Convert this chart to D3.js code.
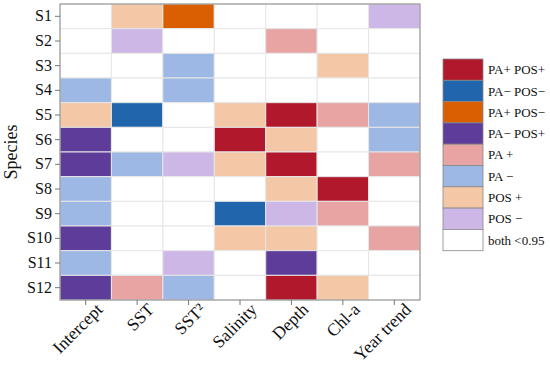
<!DOCTYPE html>
<html>
<head>
<meta charset="utf-8">
<script src="https://cdn.jsdelivr.net/npm/d3@7"></script>
<style>
body { margin: 0; background: #fff; }
svg text { font-family: "Liberation Serif", "DejaVu Serif", serif; fill: #111; }
</style>
</head>
<body>
<div id="chart"></div>
<script>
var width = 550, height = 369;
var margin = {top: 4, left: 60, right: 130, bottom: 69};

// 数据
var species = ["S1","S2","S3","S4","S5","S6","S7","S8","S9","S10","S11","S12"];
var covariates = ["Intercept","SST","SST\u00b2","Salinity","Depth","Chl-a","Year trend"];
var categories = ["PA+ POS+","PA\u2212 POS\u2212","PA+ POS\u2212","PA\u2212 POS+","PA +","PA \u2212","POS +","POS \u2212","both <0.95"];
var colors = ["#b2182b","#2166ac","#d95f02","#5e3c99","#e8a3a3","#9db8e4","#f4c7a6","#cdb7e6","#ffffff"];
// 每个物种对应各协变量的类别编号 (8 = both <0.95)
var cells = [
  [8,6,2,8,8,8,7],
  [8,7,8,8,4,8,8],
  [8,8,5,8,8,6,8],
  [5,8,5,8,8,8,8],
  [6,1,8,6,0,4,5],
  [3,8,8,0,6,8,5],
  [3,5,7,6,0,8,4],
  [5,8,8,8,6,0,8],
  [5,8,8,1,7,4,8],
  [3,8,8,6,6,8,4],
  [5,8,7,8,3,8,8],
  [3,4,5,8,0,6,8]
];

var svg = d3.select("#chart").append("svg")
    .attr("width", width)
    .attr("height", height);

var x = d3.scaleBand().domain(covariates).range([margin.left, width - margin.right]);
var y = d3.scaleBand().domain(species).range([margin.top, height - margin.bottom]);
var color = d3.scaleOrdinal().domain(d3.range(categories.length)).range(colors);

var flat = [];
cells.forEach(function (row, i) {
    row.forEach(function (c, j) {
        flat.push({s: species[i], v: covariates[j], c: c});
    });
});

// 格子
svg.append("g").selectAll("rect")
    .data(flat)
    .enter().append("rect")
    .attr("x", d => x(d.v))
    .attr("y", d => y(d.s))
    .attr("width", x.bandwidth())
    .attr("height", y.bandwidth())
    .attr("fill", d => color(d.c))
    .attr("stroke", "#e6e6e6")
    .attr("stroke-width", 1);

// 外框
svg.append("rect")
    .attr("x", margin.left)
    .attr("y", margin.top)
    .attr("width", width - margin.right - margin.left)
    .attr("height", height - margin.bottom - margin.top)
    .attr("fill", "none")
    .attr("stroke", "#888")
    .attr("stroke-width", 1);

// y轴
var yAxis = svg.append("g")
    .attr("transform", `translate(${margin.left},0)`)
    .call(d3.axisLeft(y).tickSize(5).tickPadding(3))
    .attr("font-family", "Liberation Serif, serif")
    .attr("font-size", 16);
yAxis.select(".domain").remove();
yAxis.selectAll("line").attr("stroke", "#777");
yAxis.selectAll("text").attr("fill", "#111");

// x轴
var xAxis = svg.append("g")
    .attr("transform", `translate(0,${height - margin.bottom})`)
    .call(d3.axisBottom(x).tickSize(5).tickPadding(3))
    .attr("font-family", "Liberation Serif, serif")
    .attr("font-size", 17.5);
xAxis.select(".domain").remove();
xAxis.selectAll("line").attr("stroke", "#777");
xAxis.selectAll("text")
    .attr("fill", "#111")
    .attr("text-anchor", "end")
    .attr("dx", "0.3em")
    .attr("dy", "0.7em")
    .attr("transform", "rotate(-45)");

// y轴标题
svg.append("text")
    .attr("transform", `translate(17,${(margin.top + height - margin.bottom) / 2}) rotate(-90)`)
    .attr("text-anchor", "middle")
    .attr("font-size", 18)
    .text("Species");

// 图例
var lx = 443, ly = 59, lw = 40, lh = 21.3;
var legend = svg.append("g");
legend.selectAll("rect")
    .data(categories)
    .enter().append("rect")
    .attr("x", lx)
    .attr("y", (d, i) => ly + i * lh)
    .attr("width", lw)
    .attr("height", lh)
    .attr("fill", (d, i) => color(i))
    .attr("stroke", "#888")
    .attr("stroke-width", 0.8);
legend.selectAll("text")
    .data(categories)
    .enter().append("text")
    .attr("x", lx + lw + 5)
    .attr("y", (d, i) => ly + i * lh + lh / 2)
    .attr("dy", "0.35em")
    .attr("font-size", 13)
    .text(d => d);
</script>
</body>
</html>
